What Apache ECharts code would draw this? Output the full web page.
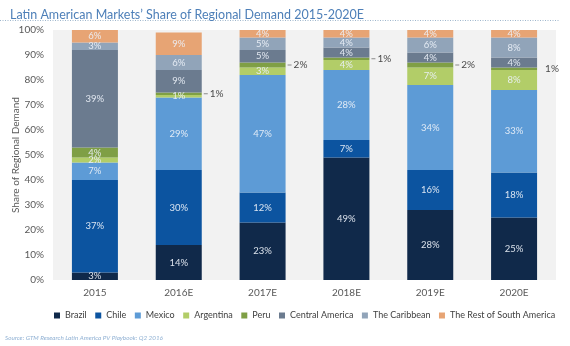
<!DOCTYPE html>
<html>
<head>
<meta charset="utf-8">
<script src="https://cdn.jsdelivr.net/npm/echarts@6/dist/echarts.min.js"></script>
<style>
  html, body { margin: 0; padding: 0; background: #ffffff; }
  #chart { width: 570px; height: 346px; }
</style>
</head>
<body>
<div id="chart"></div>
<script>
// Years on the x axis
const years = ['2015', '2016E', '2017E', '2018E', '2019E', '2020E'];

// Share of regional demand (%) per market, bottom of the stack first
const brazil        = [3, 14, 23, 49, 28, 25];
const chile         = [37, 30, 12, 7, 16, 18];
const mexico        = [7, 29, 47, 28, 34, 33];
const argentina     = [2, 1, 3, 4, 7, 8];
const peru          = [4, 1, 2, 1, 2, 1];
const centralAm     = [39, 9, 5, 4, 4, 4];
const caribbean     = [3, 6, 5, 4, 6, 8];
const restSouthAm   = [6, 9, 4, 4, 4, 4];

const yTicks = [0, 10, 20, 30, 40, 50, 60, 70, 80, 90, 100];

const FONT = 'Lato, "Open Sans", sans-serif';

const inLabel = {
  show: true,
  position: 'inside',
  color: 'rgba(235,241,248,0.92)',
  fontSize: 9.5,
  fontFamily: FONT,
  formatter: p => p.value + '%'
};

function makeSeries(name, values, color, opts) {
  return Object.assign({
    name: name,
    type: 'bar',
    stack: 'share',
    barWidth: 46,
    data: values,
    itemStyle: { color: color },
    label: inLabel,
    emphasis: { disabled: true }
  }, opts || {});
}

// Peru: inside only where the slice is tall enough, otherwise a callout with a short leader to the right
const peruData = peru.map((v, i) => {
  if (i === 0) return { value: v };
  return {
    value: v,
    label: {
      show: true,
      position: 'right',
      distance: 2,
      color: '#4a4a4a',
      fontSize: 10,
      fontFamily: FONT,
      formatter: p => (i === peru.length - 1 ? '{g|}' : '{l|}') + '{t|' + p.value + '%}',
      rich: {
        l: { width: 4, height: 1, backgroundColor: '#8a8a8a' },
        g: { width: 4, height: 1 },
        t: { color: '#4a4a4a', fontSize: 10, fontFamily: FONT, padding: [0, 0, 0, 2] }
      }
    }
  };
});

const chart = echarts.init(document.getElementById('chart'), null, { renderer: 'canvas' });

chart.setOption({
  animation: false,
  backgroundColor: '#ffffff',
  title: {
    text: 'Latin American Markets\u2019 Share of Regional Demand 2015-2020E',
    left: 5,
    top: 3,
    textStyle: { color: '#4d7fb8', fontSize: 12.5, fontWeight: 'normal', fontFamily: FONT }
  },
  graphic: [
    {
      type: 'line',
      shape: { x1: 0, y1: 20.5, x2: 560, y2: 20.5 },
      style: { stroke: '#9fb6cc', lineWidth: 1, lineDash: [1, 1.5] }
    },
    {
      type: 'text',
      left: 5,
      top: 335,
      style: {
        text: 'Source: GTM Research Latin America PV Playbook: Q2 2016',
        fill: '#8fb0d3',
        fontSize: 6.3,
        fontStyle: 'italic',
        fontFamily: FONT
      }
    }
  ],
  legend: {
    top: 311,
    left: 54,
    width: 515,
    padding: 0,
    itemWidth: 6,
    itemHeight: 6,
    itemGap: 8.5,
    icon: 'rect',
    textStyle: { color: '#404040', fontSize: 9, fontFamily: FONT },
    data: ['Brazil', 'Chile', 'Mexico', 'Argentina', 'Peru', 'Central America', 'The Caribbean', 'The Rest of South America']
  },
  grid: {
    left: 53,
    right: 14,
    top: 30,
    bottom: 66,
    containLabel: false,
    outerBoundsMode: 'none',
    show: true,
    backgroundColor: '#f2f2f2',
    borderWidth: 0
  },
  xAxis: {
    type: 'category',
    data: years,
    axisLine: { show: false },
    axisTick: { show: false },
    axisLabel: { color: '#595959', fontSize: 10, fontFamily: FONT, margin: 8 }
  },
  yAxis: {
    type: 'value',
    min: yTicks[0],
    max: yTicks[yTicks.length - 1],
    interval: 10,
    name: 'Share of Regional Demand',
    nameLocation: 'middle',
    nameGap: 32,
    nameMoveOverlap: false,
    nameTextStyle: { color: '#595959', fontSize: 10, fontFamily: FONT },
    axisLine: { show: false },
    axisTick: { show: false },
    splitLine: { show: false },
    axisLabel: { color: '#595959', fontSize: 10, fontFamily: FONT, formatter: v => v + '%', margin: 9 }
  },
  series: [
    makeSeries('Brazil', brazil, '#10294a'),
    makeSeries('Chile', chile, '#0c54a0'),
    makeSeries('Mexico', mexico, '#5d9bd6'),
    makeSeries('Argentina', argentina, '#b2cd68'),
    makeSeries('Peru', peruData, '#7f9f45'),
    makeSeries('Central America', centralAm, '#6b7b8f'),
    makeSeries('The Caribbean', caribbean, '#91a4b9'),
    makeSeries('The Rest of South America', restSouthAm, '#e7a474')
  ]
});
</script>
</body>
</html>
